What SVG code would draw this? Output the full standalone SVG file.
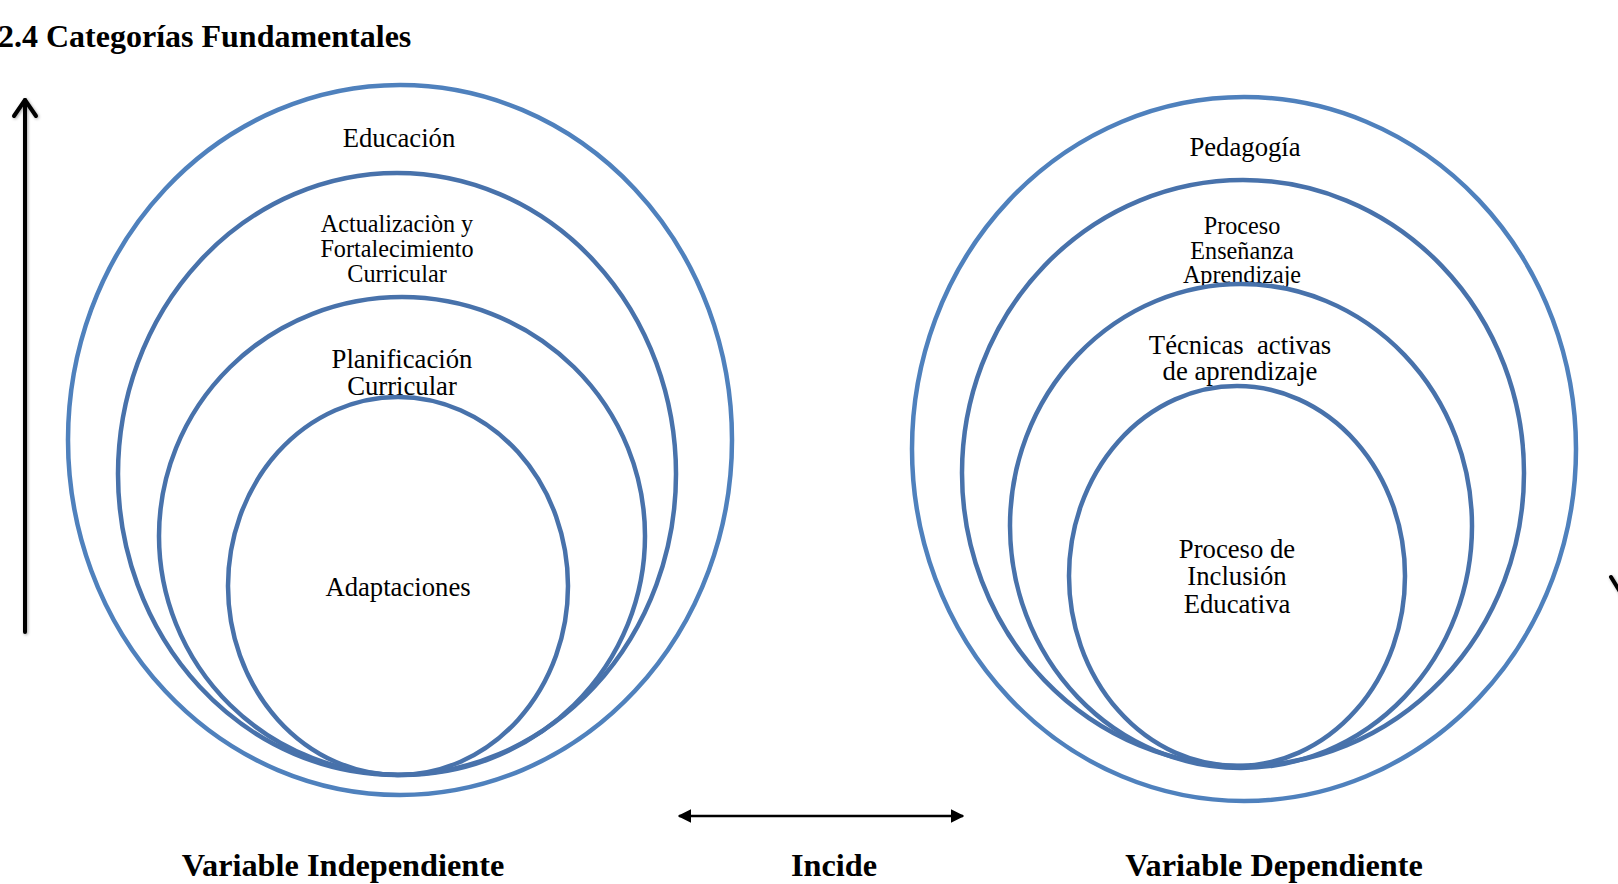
<svg xmlns="http://www.w3.org/2000/svg" width="1618" height="884" viewBox="0 0 1618 884">
<style>
.outer{fill:none;stroke:#4F81BD;stroke-width:4.5}
.inner{fill:none;stroke:#4872AB;stroke-width:4.5}
.t{font-family:"Liberation Serif","Times New Roman",serif;fill:#000;text-anchor:middle}
.b{font-family:"Liberation Serif","Times New Roman",serif;font-weight:bold;fill:#000}
</style>
<defs>
<marker id="tri" viewBox="0 0 10 10" refX="9" refY="5" markerWidth="5.5" markerHeight="5.5" orient="auto-start-reverse" markerUnits="strokeWidth">
<path d="M0,0 L10,5 L0,10 Z" fill="#000"/>
</marker>
<filter id="sh" x="-50%" y="-10%" width="200%" height="120%">
<feDropShadow dx="1" dy="1" stdDeviation="1.5" flood-color="#000" flood-opacity="0.35"/>
</filter>
</defs>
<rect width="1618" height="884" fill="#fff"/>
<text class="b" x="-2" y="47" font-size="32">2.4 Categorías Fundamentales</text>

<g id="connectors">
<g filter="url(#sh)" stroke="#000" stroke-width="4" stroke-linecap="round" stroke-linejoin="round" fill="none">
<line x1="25" y1="100" x2="25" y2="632"/>
<polyline points="14,116 25,100 36,116"/>
<line x1="1611" y1="577" x2="1622" y2="595"/>
</g>
<line x1="679" y1="816" x2="963" y2="816" stroke="#000" stroke-width="2.5" marker-start="url(#tri)" marker-end="url(#tri)"/>
</g>

<g id="left-educacion">
<ellipse class="outer" cx="400" cy="440" rx="332" ry="355"/>
<text class="t" x="399" y="147" font-size="26.7">Educación</text>
</g>
<g id="left-actualizacion">
<ellipse class="inner" cx="397" cy="474" rx="279" ry="301"/>
<text class="t" x="397" y="232" font-size="24.2">Actualizaciòn y</text>
<text class="t" x="397" y="257" font-size="24.2">Fortalecimiento</text>
<text class="t" x="397" y="282" font-size="24.2">Curricular</text>
</g>
<g id="left-planificacion">
<ellipse class="inner" cx="402" cy="536" rx="243" ry="239"/>
<text class="t" x="402" y="368" font-size="26.7">Planificación</text>
<text class="t" x="402" y="395" font-size="26.7">Curricular</text>
</g>
<g id="left-adaptaciones">
<ellipse class="inner" cx="398" cy="586" rx="170" ry="189"/>
<text class="t" x="398" y="596" font-size="26.7">Adaptaciones</text>
</g>

<g id="right-pedagogia">
<ellipse class="outer" cx="1244" cy="449" rx="332" ry="352"/>
<text class="t" x="1245" y="156" font-size="26.7">Pedagogía</text>
</g>
<g id="right-proceso-ea">
<ellipse class="inner" cx="1243" cy="473" rx="281" ry="293"/>
<text class="t" x="1242" y="234" font-size="24.2">Proceso</text>
<text class="t" x="1242" y="259" font-size="24.2">Enseñanza</text>
<text class="t" x="1242" y="283" font-size="24.2">Aprendizaje</text>
</g>
<g id="right-tecnicas">
<ellipse class="inner" cx="1241" cy="526" rx="231" ry="242"/>
<text class="t" x="1240" y="354" font-size="26.7" xml:space="preserve">Técnicas  activas</text>
<text class="t" x="1240" y="380" font-size="26.7">de aprendizaje</text>
</g>
<g id="right-inclusion">
<ellipse class="inner" cx="1237" cy="576" rx="168" ry="190"/>
<text class="t" x="1237" y="558" font-size="26.7">Proceso de</text>
<text class="t" x="1237" y="585" font-size="26.7">Inclusión</text>
<text class="t" x="1237" y="613" font-size="26.7">Educativa</text>
</g>

<text class="b" x="343" y="876" font-size="32.3" text-anchor="middle">Variable Independiente</text>
<text class="b" x="834" y="876" font-size="32.3" text-anchor="middle">Incide</text>
<text class="b" x="1274" y="876" font-size="32.3" text-anchor="middle">Variable Dependiente</text>
</svg>
